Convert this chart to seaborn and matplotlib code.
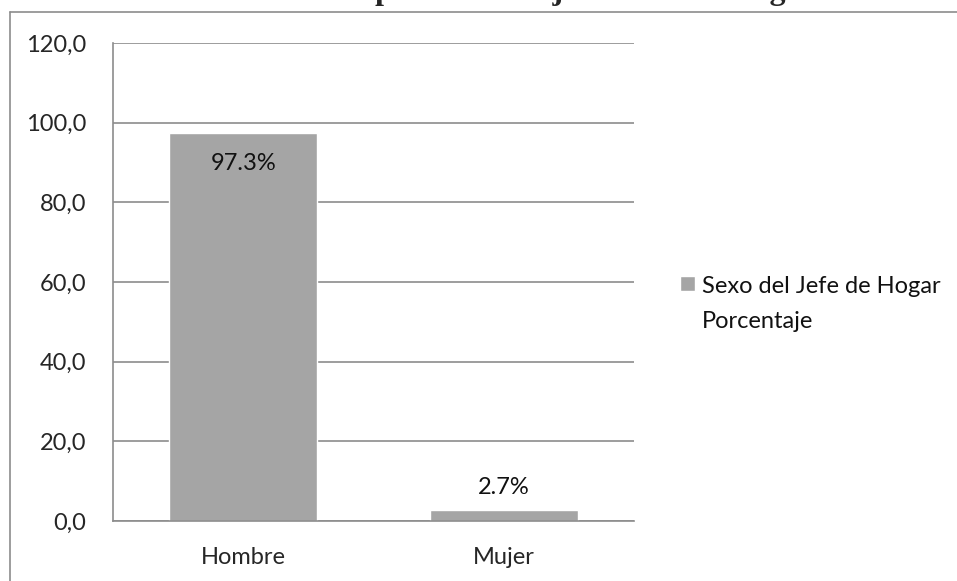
import matplotlib
matplotlib.use("Agg")
import matplotlib.pyplot as plt
import seaborn as sns
import pandas as pd
from matplotlib.lines import Line2D

categorias = ["Hombre", "Mujer"]
porcentajes = [97.3, 2.7]
etiquetas = ["97.3%", "2.7%"]
yticks = [0, 20, 40, 60, 80, 100, 120]
leyenda = "Sexo del Jefe de Hogar\nPorcentaje"
titulo = "Sexo por Porcentaje de Jefe de Hogar"

df = pd.DataFrame({"Sexo": categorias, "Porcentaje": porcentajes})

sns.set_style("white")
plt.rcParams["font.family"] = ["Lato", "DejaVu Sans"]

W, H = 957, 581
fig = plt.figure(figsize=(W / 100, H / 100), dpi=100)
ax = fig.add_axes([113 / W, (H - 521) / H, (634 - 113) / W, (521 - 43) / H])

sns.barplot(data=df, x="Sexo", y="Porcentaje", color="#a5a5a5",
            saturation=1, width=0.57, ax=ax, label=leyenda)

ax.set_ylim(0, 120)
ax.set_xlim(-0.5, 1.5)
ax.set_yticks(yticks)
ax.set_yticklabels([f"{v:.1f}".replace(".", ",") for v in yticks], fontsize=17)
ax.tick_params(axis="x", labelsize=17, length=0, pad=19)
ax.tick_params(axis="y", length=0, pad=19)
ax.set_xlabel("")
ax.set_ylabel("")
ax.yaxis.grid(True, color="#8c8c8c", linewidth=1.2)
ax.set_axisbelow(True)
for s in ["top", "right"]:
    ax.spines[s].set_visible(False)
for s in ["left", "bottom"]:
    ax.spines[s].set_color("#8c8c8c")
    ax.spines[s].set_linewidth(1.2)

# etiquetas de datos
ax.text(0, porcentajes[0] - 7.5, etiquetas[0], ha="center", va="center", fontsize=17, color="#111111")
ax.text(1, porcentajes[1] + 5.8, etiquetas[1], ha="center", va="center", fontsize=17, color="#111111")

leg = ax.legend(loc="center left", bbox_to_anchor=(671 / W, 277 / H), bbox_transform=fig.transFigure,
                frameon=False, fontsize=17, handlelength=0.6, handleheight=0.6, handletextpad=0.3,
                borderaxespad=0)
for t in leg.get_texts():
    t.set_linespacing(1.8)
    t.set_color("#111111")
# marcador alineado con la primera linea, como en Excel
h = leg.legend_handles[0]
h.set_y(h.get_y() + 15)

# borde del area del grafico (recortado)
fig.add_artist(Line2D([10 / W, 10 / W], [0, 1 - 12 / H], transform=fig.transFigure, color="#8c8c8c", lw=1.2))
fig.add_artist(Line2D([10 / W, 1], [1 - 12 / H, 1 - 12 / H], transform=fig.transFigure, color="#8c8c8c", lw=1.2))

# titulo recortado en la parte superior (solo se ven los trazos descendentes)
fig.text(303 / W, 1 + 1 / H, titulo, ha="left", va="baseline",
         fontsize=23, fontweight="bold", family="Liberation Serif")

fig.savefig("out.png", dpi=100)
